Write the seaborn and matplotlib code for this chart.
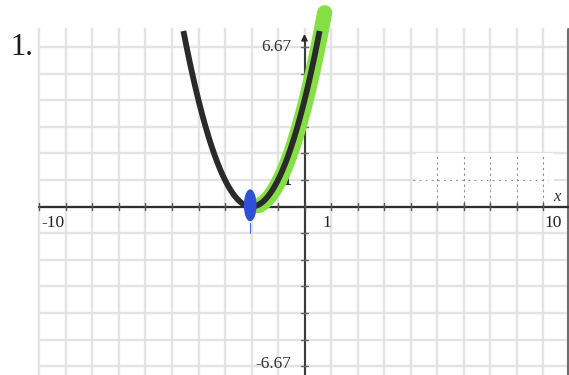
import numpy as np
import pandas as pd
import matplotlib
matplotlib.use("Agg")
import matplotlib.pyplot as plt
from matplotlib.patches import Ellipse, Rectangle
import seaborn as sns

# Parabola y = a (x - h)^2 + k
vertex_x = -2.0
vertex_y = 0.0
leading_coef = 1.0
curve_domain = [-4.57, 0.57]       # black graph, clipped at the window top
highlight_domain = [-1.80, 0.70]   # green marker over the increasing branch

# Window of the graphing grid
x_window = [-10, 10]
y_window = [-6.67, 6.67]
x_grid = list(range(-10, 11))
y_grid = list(range(-6, 7))

# Axis labels
x_labels = ["-10", "1", "10"]
x_label_values = [-9.5, 0.85, 9.38]
y_labels = ["6.67", "1", "-6.67"]
y_label_values = [6.0, 1.0, -5.9]

# Dashed patch of the grid on the right side
patch_x = [5, 6, 7, 8, 9]
patch_y = [1]

sns.set_theme(style="white")
plt.rcParams["font.family"] = ["Liberation Serif", "DejaVu Serif"]

fig = plt.figure(figsize=(5.69, 3.75), dpi=100)
ax = fig.add_axes([0, 0, 1, 1])
ax.set_xlim(-11.49, 9.98)
ax.set_ylim(-6.33, 7.77)
ax.axis("off")

grid_color = "#e3e3e3"
for gx in x_grid:
    ax.plot([gx, gx], y_window, color=grid_color, lw=1.7, zorder=1)
for gy in y_grid:
    ax.plot(x_window, [gy, gy], color=grid_color, lw=1.7, zorder=1)

# blank strip with dotted grid
ax.add_patch(Rectangle((4.2, 0.15), 5.2, 1.85, facecolor="white", edgecolor="none", zorder=1.5))
for px in patch_x:
    ax.plot([px, px], [0.15, 2.0], color="#8a8a8a", lw=0.8, ls=(0, (2, 3)), zorder=1.6)
for py in patch_y:
    ax.plot([4.1, 9.2], [py, py], color="#8a8a8a", lw=0.8, ls=(0, (1.5, 4)), zorder=1.6)

# right frame edge
ax.plot([9.93, 9.93], [y_window[0], 6.67], color="#6e6e6e", lw=2.2, zorder=2)

# axes with tick marks
ax.plot([-10, 10], [0, 0], color="#2e2e2e", lw=1.6, zorder=3)
ax.plot([0, 0], [y_window[0], 6.35], color="#3a3a3a", lw=1.5, zorder=3)
ax.annotate("", xy=(0, 6.6), xytext=(0, 6.1),
            arrowprops=dict(arrowstyle="-|>", color="#2a2a2a", lw=1.2,
                            mutation_scale=9), zorder=3)
ax.annotate("", xy=(10.05, 0.12), xytext=(9.7, -0.05),
            arrowprops=dict(arrowstyle="-", color="#2a2a2a", lw=1.2), zorder=3)
for gx in x_grid:
    ax.plot([gx, gx], [-0.13, 0.13], color="#555555", lw=1.0, zorder=3)
for gy in y_grid:
    if gy != 0:
        ax.plot([-0.12, 0.12], [gy, gy], color="#666666", lw=1.0, zorder=3)

# green highlighter on the rising branch
hx = np.linspace(highlight_domain[0], highlight_domain[1], 200)
hl = pd.DataFrame({"x": hx + 0.06, "y": leading_coef * (hx - vertex_x) ** 2 + vertex_y})
sns.lineplot(data=hl, x="x", y="y", ax=ax, color="#86df45", lw=11,
             sort=False, estimator=None, zorder=4)
ax.lines[-1].set_solid_capstyle("round")
ax.lines[-1].set_clip_on(False)

# black graph
cx = np.linspace(curve_domain[0], curve_domain[1], 300)
curve = pd.DataFrame({"x": cx, "y": leading_coef * (cx - vertex_x) ** 2 + vertex_y})
sns.lineplot(data=curve, x="x", y="y", ax=ax, color="#2a2a2a", lw=4.2,
             sort=False, estimator=None, zorder=5)
ax.lines[-1].set_solid_capstyle("butt")

# blue vertex mark
ax.add_patch(Ellipse((vertex_x - 0.05, vertex_y + 0.05), 0.48, 1.2,
                     facecolor="#2f4fd8", edgecolor="none", zorder=6))
ax.plot([vertex_x - 0.05, vertex_x - 0.05], [-0.6, -1.0], color="#4d6ae0",
        lw=0.8, zorder=6)

# labels
for lab, xv in zip(x_labels, x_label_values):
    ax.text(xv, -0.6, lab, ha="center", va="center", fontsize=12.5, color="#222222")
for lab, yv in zip(y_labels, y_label_values):
    ax.text(-0.5, yv, lab, ha="right", va="center",
            fontsize=13 if lab == "1" else 12.5,
            color="#333333", fontweight="bold" if lab == "1" else "normal")
ax.text(9.52, 0.35, "x", ha="center", va="center", fontsize=12,
        style="italic", color="#333333")
ax.text(0.5, 6.1, "y", ha="center", va="center", fontsize=8,
        style="italic", color="#555555", zorder=4.5)
ax.text(-10.65, 6.0, "1.", ha="center", va="center", fontsize=22, color="#1a1a1a")

fig.savefig("out.png", dpi=100)
